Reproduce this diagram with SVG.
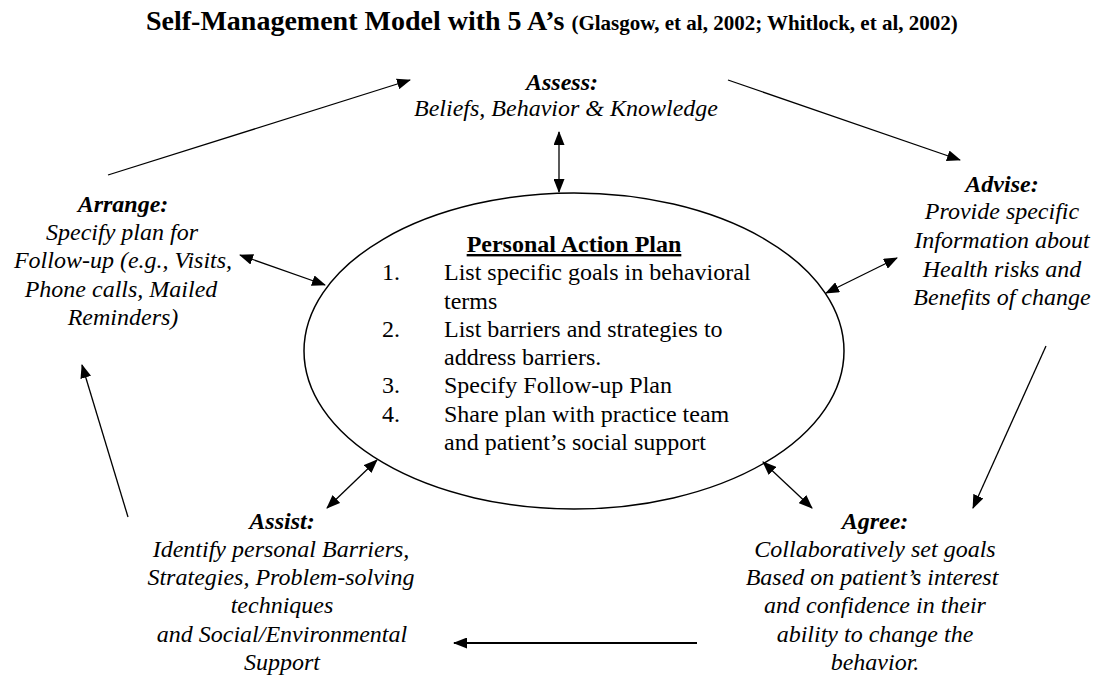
<svg xmlns="http://www.w3.org/2000/svg" width="1099" height="676" viewBox="0 0 1099 676">
  <style>
    text { font-family: "Liberation Serif", "Times New Roman", serif; fill: #000; }
    .title { font-size: 28px; font-weight: bold; }
    .cite { font-size: 21px; font-weight: bold; }
    .head { font-size: 24px; font-weight: bold; font-style: italic; text-anchor: middle; }
    .body { font-size: 24px; font-style: italic; text-anchor: middle; }
    .plan { font-size: 24px; }
    .planhead { font-size: 24px; font-weight: bold; text-anchor: middle; text-decoration: underline; }
    .conn line { stroke: #000; stroke-width: 1.3; fill: none; }
    .one { marker-end: url(#ah); }
    .two { marker-start: url(#ah); marker-end: url(#ah); }
  </style>
  <defs>
    <marker id="ah" markerUnits="userSpaceOnUse" markerWidth="14" markerHeight="11" refX="13" refY="5.5" orient="auto-start-reverse">
      <path d="M0,0 L14,5.5 L0,11 z" fill="#000"/>
    </marker>
  </defs>
  <rect width="1099" height="676" fill="#fff"/>

  <g id="title">
    <text class="title" x="146" y="30">Self-Management Model with 5 A’s <tspan class="cite">(Glasgow, et al, 2002; Whitlock, et al, 2002)</tspan></text>
  </g>

  <g id="plan">
    <ellipse cx="574" cy="351" rx="270" ry="158" fill="none" stroke="#000" stroke-width="1.5"/>
    <text class="planhead" x="574" y="252">Personal Action Plan</text>
    <text class="plan" x="382" y="280">1.</text>
    <text class="plan" x="444" y="280">List specific goals in behavioral</text>
    <text class="plan" x="444" y="309">terms</text>
    <text class="plan" x="382" y="337">2.</text>
    <text class="plan" x="444" y="337">List barriers and strategies to</text>
    <text class="plan" x="444" y="365">address barriers.</text>
    <text class="plan" x="382" y="393">3.</text>
    <text class="plan" x="444" y="393">Specify Follow-up Plan</text>
    <text class="plan" x="382" y="422">4.</text>
    <text class="plan" x="444" y="422">Share plan with practice team</text>
    <text class="plan" x="444" y="450">and patient’s social support</text>
  </g>

  <g id="assess">
    <text class="head" x="562" y="90">Assess:</text>
    <text class="body" x="566" y="116">Beliefs, Behavior &amp; Knowledge</text>
  </g>

  <g id="advise">
    <text class="head" x="1002" y="192">Advise:</text>
    <text class="body" x="1002" y="219">Provide specific</text>
    <text class="body" x="1002" y="248">Information about</text>
    <text class="body" x="1002" y="277">Health risks and</text>
    <text class="body" x="1002" y="305">Benefits of change</text>
  </g>

  <g id="agree">
    <text class="head" x="875" y="529">Agree:</text>
    <text class="body" x="875" y="557">Collaboratively set goals</text>
    <text class="body" x="872" y="585">Based on patient’s interest</text>
    <text class="body" x="875" y="613">and confidence in their</text>
    <text class="body" x="875" y="642">ability to change the</text>
    <text class="body" x="875" y="670">behavior.</text>
  </g>

  <g id="assist">
    <text class="head" x="282" y="529">Assist:</text>
    <text class="body" x="281" y="557">Identify personal Barriers,</text>
    <text class="body" x="281" y="585">Strategies, Problem-solving</text>
    <text class="body" x="282" y="613">techniques</text>
    <text class="body" x="282" y="642">and Social/Environmental</text>
    <text class="body" x="282" y="670">Support</text>
  </g>

  <g id="arrange">
    <text class="head" x="123" y="212">Arrange:</text>
    <text class="body" x="122" y="240">Specify plan for</text>
    <text class="body" x="123" y="268">Follow-up (e.g., Visits,</text>
    <text class="body" x="121" y="297">Phone calls, Mailed</text>
    <text class="body" x="123" y="325">Reminders)</text>
  </g>

  <g id="connectors" class="conn">
    <line class="one" x1="108" y1="175" x2="410" y2="80"/>
    <line class="one" x1="728" y1="80" x2="960" y2="160"/>
    <line class="one" x1="1046" y1="346" x2="973" y2="508"/>
    <line class="one" x1="697" y1="643" x2="454" y2="643" style="stroke-width:2"/>
    <line class="one" x1="128" y1="517" x2="82" y2="365"/>
    <line class="two" x1="559" y1="132" x2="559" y2="192"/>
    <line class="two" x1="897" y1="258" x2="826" y2="293"/>
    <line class="two" x1="763" y1="462" x2="812" y2="508"/>
    <line class="two" x1="377" y1="460" x2="327" y2="508"/>
    <line class="two" x1="240" y1="255" x2="325" y2="285"/>
  </g>
</svg>
